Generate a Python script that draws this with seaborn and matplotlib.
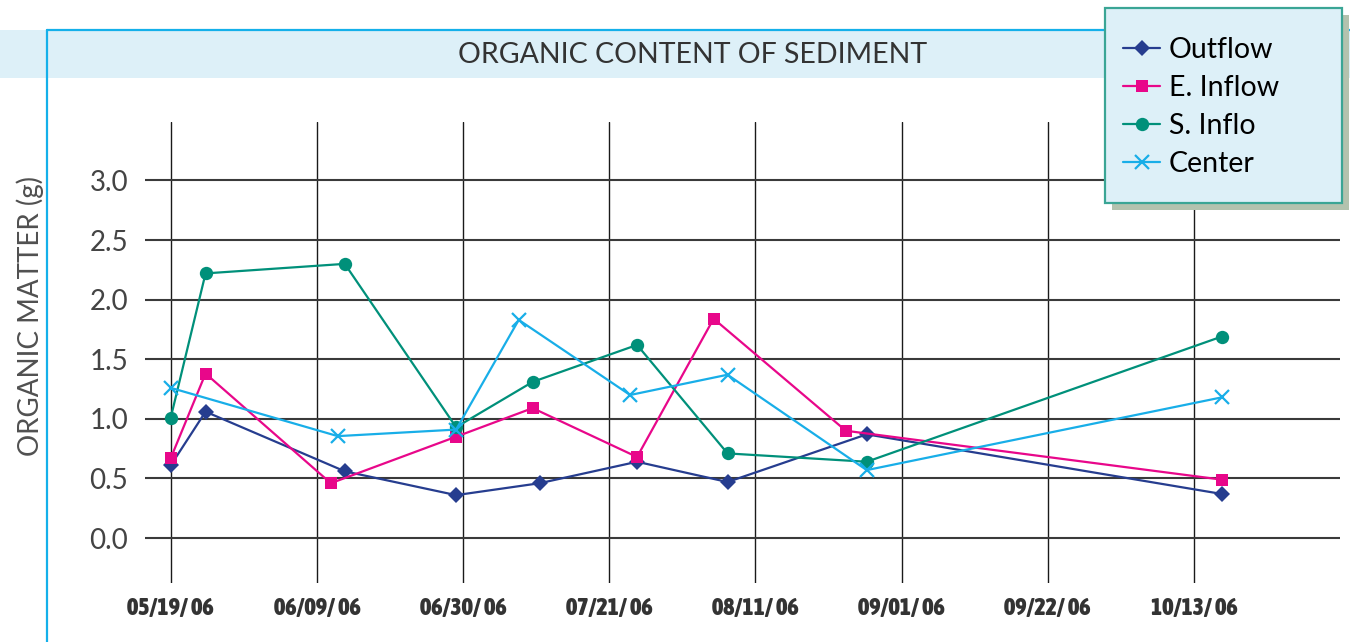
import matplotlib
matplotlib.use("Agg")
import matplotlib.pyplot as plt
import matplotlib.font_manager as fm
from matplotlib.patches import Rectangle
from matplotlib.lines import Line2D
import numpy as np
import pandas as pd
import seaborn as sns

# ---------------- data ----------------
series_names = ["Outflow", "E. Inflow", "S. Inflo", "Center"]

outflow_dates = ["2006-05-19", "2006-05-24", "2006-06-13", "2006-06-29", "2006-07-11",
                 "2006-07-25", "2006-08-07", "2006-08-27", "2006-10-17"]
outflow_vals = [0.61, 1.06, 0.56, 0.36, 0.46, 0.64, 0.47, 0.87, 0.37]

einflow_dates = ["2006-05-19", "2006-05-24", "2006-06-11", "2006-06-29", "2006-07-10",
                 "2006-07-25", "2006-08-05", "2006-08-24", "2006-10-17"]
einflow_vals = [0.67, 1.38, 0.46, 0.85, 1.09, 0.68, 1.84, 0.90, 0.49]

sinflo_dates = ["2006-05-19", "2006-05-24", "2006-06-13", "2006-06-29", "2006-07-10",
                "2006-07-25", "2006-08-07", "2006-08-27", "2006-10-17"]
sinflo_vals = [1.01, 2.22, 2.30, 0.93, 1.31, 1.62, 0.71, 0.64, 1.69]

center_dates = ["2006-05-19", "2006-06-12", "2006-06-29", "2006-07-08", "2006-07-24",
                "2006-08-07", "2006-08-27", "2006-10-17"]
center_vals = [1.26, 0.855, 0.91, 1.83, 1.20, 1.37, 0.57, 1.18]

tick_dates = ["2006-05-19", "2006-06-09", "2006-06-30", "2006-07-21",
              "2006-08-11", "2006-09-01", "2006-09-22", "2006-10-13"]
ytick_vals = [0.0, 0.5, 1.0, 1.5, 2.0, 2.5, 3.0]

title_text = "ORGANIC CONTENT OF SEDIMENT"
ylabel_text = "ORGANIC MATTER (g)"

# ---------------- styles ----------------
colors = {"Outflow": "#263D8F", "E. Inflow": "#E8078A", "S. Inflo": "#00907A", "Center": "#18AEE8"}
markers = {"Outflow": "D", "E. Inflow": "s", "S. Inflo": "o", "Center": "x"}
msizes = {"Outflow": 7.8, "E. Inflow": 8.6, "S. Inflo": 9.6, "Center": 9.5}

frames = []
for name, d, v in [("Outflow", outflow_dates, outflow_vals),
                   ("E. Inflow", einflow_dates, einflow_vals),
                   ("S. Inflo", sinflo_dates, sinflo_vals),
                   ("Center", center_dates, center_vals)]:
    frames.append(pd.DataFrame({"date": pd.to_datetime(d), "value": v, "series": name}))
df = pd.concat(frames, ignore_index=True)

sns.set_theme(style="white")
plt.rcParams["font.family"] = ["Lato", "DejaVu Sans"]

# pick a narrow bold font for the date labels
def pick_narrow_bold():
    best = None
    for f in fm.fontManager.ttflist:
        w = f.weight if isinstance(f.weight, int) else (700 if "bold" in str(f.weight).lower() else 400)
        if w < 600:
            continue
        nm = f.name.lower()
        score = 0
        if "liberation sans narrow" in nm or "arial narrow" in nm:
            score = 5
        elif "condensed" in nm or "narrow" in nm:
            score = 4
        elif str(f.stretch).lower() in ("condensed", "semi-condensed", "extra-condensed"):
            score = 3
        if score and (best is None or score > best[0]):
            best = (score, f.fname)
    if best:
        return fm.FontProperties(fname=best[1])
    return fm.FontProperties(family="Roboto", weight="bold")

xfont = pick_narrow_bold()

W, H = 1350, 642
fig = plt.figure(figsize=(W / 100, H / 100), dpi=100)
fig.patch.set_facecolor("white")

ax_l, ax_r, ax_t, ax_b = 145, 1340, 122, 583
ax = fig.add_axes([ax_l / W, 1 - ax_b / H, (ax_r - ax_l) / W, (ax_b - ax_t) / H])
ax.set_facecolor("none")

for name in series_names:
    sub = df[df["series"] == name]
    sns.lineplot(data=sub, x="date", y="value", ax=ax, color=colors[name],
                 marker=markers[name], markersize=msizes[name],
                 markeredgewidth=(1.6 if name == "Center" else 0),
                 markeredgecolor=colors[name],
                 linewidth=1.6, sort=False, estimator=None, legend=False, zorder=3)

start = pd.Timestamp("2006-05-19")
ax.set_xlim(start - pd.Timedelta(days=3.7), start + pd.Timedelta(days=168.0))
ax.set_ylim(-0.377, 3.49)

ticks = pd.to_datetime(tick_dates)
ax.set_xticks(ticks)
ax.set_xticklabels([t.strftime("%m/%d/ %y") for t in ticks])
ax.set_yticks(ytick_vals)
ax.set_yticklabels([f"{v:.1f}" for v in ytick_vals])

ax.set_xlabel("")
ax.set_ylabel("")
for s in ax.spines.values():
    s.set_visible(False)

ax.set_axisbelow(True)
ax.xaxis.grid(True, color="#1a1a1a", linewidth=1.0)
ax.yaxis.grid(True, color="#3a3a3a", linewidth=1.5)

ax.tick_params(axis="both", length=0)
ax.tick_params(axis="y", pad=12, labelsize=20, labelcolor="#444444")
ax.tick_params(axis="x", pad=10, labelcolor="#333333")
for lab in ax.get_xticklabels():
    lab.set_fontproperties(xfont)
    lab.set_fontsize(15)

# title band and cyan frame
fig.patches.append(Rectangle((0, 1 - 78 / H), 1, 48 / H, transform=fig.transFigure,
                             facecolor="#DDF0F8", edgecolor="none", zorder=-2))
fig.lines.append(Line2D([47 / W, 1], [1 - 30 / H, 1 - 30 / H], transform=fig.transFigure,
                        color="#14B0EA", linewidth=1.6, zorder=-1))
fig.lines.append(Line2D([47 / W, 47 / W], [0, 1 - 30 / H], transform=fig.transFigure,
                        color="#14B0EA", linewidth=1.6, zorder=-1))

fig.text(693 / W, 1 - 55 / H, title_text, ha="center", va="center",
         fontsize=20.5, color="#333333")
fig.text(30 / W, 1 - 316 / H, ylabel_text, ha="center", va="center",
         rotation=90, fontsize=20, color="#505050")

# legend box with shadow
lx0, lx1, ly0, ly1 = 1105, 1342, 8, 203
off = 7
fig.patches.append(Rectangle(((lx0 + off) / W, 1 - (ly1 + off) / H), (lx1 - lx0) / W, (ly1 - ly0) / H,
                             transform=fig.transFigure, facecolor="#B3C2AE",
                             edgecolor="none", zorder=4))
fig.patches.append(Rectangle((lx0 / W, 1 - ly1 / H), (lx1 - lx0) / W, (ly1 - ly0) / H,
                             transform=fig.transFigure, facecolor="#DDF0F8",
                             edgecolor="#3AA595", linewidth=1.6, zorder=4.5))

handles = [Line2D([], [], color=colors[n], marker=markers[n], markersize=msizes[n],
                  markeredgewidth=(1.6 if n == "Center" else 0), markeredgecolor=colors[n],
                  linewidth=1.6) for n in series_names]
leg = fig.legend(handles, series_names, loc="upper left",
                 bbox_to_anchor=(1123 / W, 1 - 37 / H), bbox_transform=fig.transFigure,
                 frameon=False, fontsize=20.5, handlelength=1.3,
                 handletextpad=0.32, labelspacing=0.42, borderpad=0,
                 borderaxespad=0)
leg.set_zorder(6)
for t in leg.get_texts():
    t.set_color("black")

# fit date label width to the reference (~86 px for "05/19/ 06")
fig.canvas.draw()
r = fig.canvas.get_renderer()
w0 = ax.get_xticklabels()[0].get_window_extent(r).width
if w0 > 0:
    fs = 15 * 86.0 / w0
    fs = min(max(fs, 11), 19)
    for lab in ax.get_xticklabels():
        lab.set_fontsize(fs)

fig.savefig("out.png", dpi=100)
